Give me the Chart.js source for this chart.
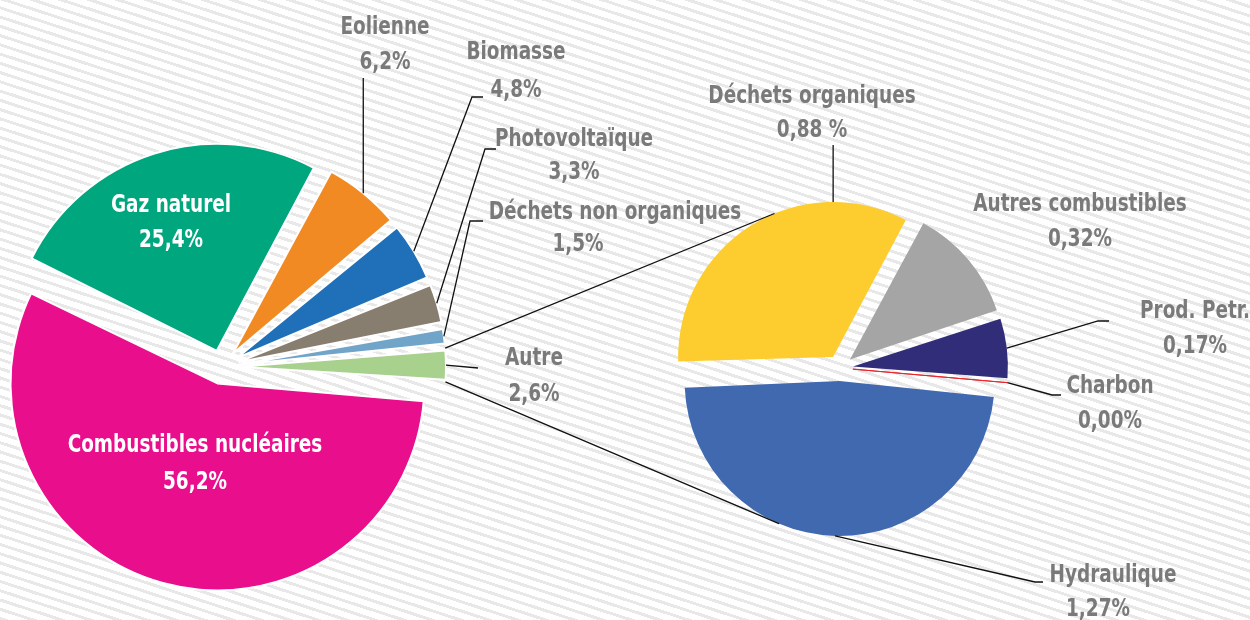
<!DOCTYPE html>
<html lang="fr">
<head>
<meta charset="utf-8">
<title>Production d'électricité par source</title>
<script src="https://cdn.jsdelivr.net/npm/chart.js@4.4.1/dist/chart.umd.min.js"></script>
<style>
    html, body {
        margin: 0;
        padding: 0;
        width: 1250px;
        height: 620px;
        overflow: hidden;
    }
    body {
        position: relative;
        background: repeating-linear-gradient(18deg,
            #e8e8e8 0px, #e8e8e8 3px,
            #ffffff 3px, #ffffff 8.8px);
    }
    canvas {
        position: absolute;
        left: 0;
        top: 0;
    }
</style>
</head>
<body>

<canvas id="mainPie" width="1250" height="620"></canvas>
<canvas id="autrePie" width="1250" height="620"></canvas>

<script>
// ==========================
// Data
// ==========================

const mainLabels = [
    "Gaz naturel", "Eolienne", "Biomasse", "Photovoltaïque",
    "Déchets non organiques", "Autre", "Combustibles nucléaires"
];
const mainValues = [25.4, 6.2, 4.8, 3.3, 1.5, 2.6, 56.2];
const mainColors = [
    "#00a67e", "#f28a24", "#1f70b8", "#877e70",
    "#70a4c8", "#a9d18e", "#e90e8b"
];

// "Autre" split
const autreLabels = [
    "Déchets organiques", "Autres combustibles", "Prod. Petr.",
    "Charbon", "Hydraulique"
];
const autreValues = [0.88, 0.32, 0.17, 0.003, 1.27];
const autreColors = ["#fdcd30", "#a5a5a5", "#312d78", "#e8262b", "#4169b0"];

// ==========================
// Text settings
// ==========================

const FONT = 'bold 25px "DejaVu Sans Condensed", "DejaVu Sans", sans-serif';
const SQUEEZE = 0.82;   // condensed look
const GREY = "#7a7a7a";

// label placement, same order as the labels above
const mainLayout = [
    { x: 171, y: 205, gap: 35, inside: true },
    { x: 385, y: 27, gap: 35, up: 78 },
    { x: 516, y: 52, gap: 38, path: [[472, 97], [483, 97]] },
    { x: 574, y: 139, gap: 33, path: [[485, 149], [496, 149]] },
    { x: 615, y: 212, gap: 32, dx: -37, path: [[470, 221], [483, 221]] },
    { x: 534, y: 358, gap: 36, path: [[478, 368]] },
    { x: 195, y: 445, gap: 37, inside: true }
];

const autreLayout = [
    { x: 812, y: 96, gap: 34, suffix: " %", at: 0, up: 145 },
    { x: 1080, y: 204, gap: 35 },
    { x: 1195, y: 311, gap: 35, path: [[1098, 321], [1109, 321]] },
    { x: 1110, y: 386, gap: 35, path: [[1052, 395], [1061, 395]] },
    { x: 1113, y: 575, gap: 34, dx: -15, path: [[1035, 582], [1043, 582]] }
];

// ==========================
// Helpers
// ==========================

function fmt(v, dec) {
    return v.toFixed(dec).replace(".", ",");
}

function squeezedText(ctx, text, x, y) {
    ctx.save();
    ctx.translate(x, y);
    ctx.scale(SQUEEZE, 1);
    ctx.fillText(text, 0, 0);
    ctx.restore();
}

// centre of an exploded slice (Chart.js moves it by offset / 4)
function sliceCentre(arc) {
    const mid = (arc.startAngle + arc.endAngle) / 2;
    const shift = (arc.options.offset || 0) / 4;
    return {
        x: arc.x + Math.cos(mid) * shift,
        y: arc.y + Math.sin(mid) * shift,
        mid: mid
    };
}

function edgePoint(arc, angle, r) {
    const c = sliceCentre(arc);
    return { x: c.x + Math.cos(angle) * r, y: c.y + Math.sin(angle) * r };
}

// tangent from a point to a slice circle
function tangentPoint(p, arc, r, side) {
    const c = sliceCentre(arc);
    const dx = c.x - p.x;
    const dy = c.y - p.y;
    const d = Math.hypot(dx, dy);
    const phi = Math.atan2(dy, dx) + side * Math.asin(r / d);
    const len = Math.sqrt(d * d - r * r);
    return { x: p.x + Math.cos(phi) * len, y: p.y + Math.sin(phi) * len };
}

// ==========================
// Plugins
// ==========================

// Chart.js grows exploded slices, keep them all at the same radius
const keepRadius = {
    id: "keepRadius",
    beforeDatasetsDraw(chart) {
        const meta = chart.getDatasetMeta(0);
        const base = meta.controller.outerRadius;
        meta.data.forEach(arc => {
            const shift = (arc.options.offset || 0) / 4;
            const fix = 1 - Math.sin(Math.min(Math.PI, arc.circumference || 0));
            arc.outerRadius = base - shift * fix;
        });
    }
};

function drawLabels(chart, labels, values, layout, dec) {
    const ctx = chart.ctx;
    const meta = chart.getDatasetMeta(0);
    const R = meta.controller.outerRadius;

    ctx.save();
    ctx.font = FONT;
    ctx.textAlign = "center";
    ctx.textBaseline = "middle";
    ctx.strokeStyle = "#111";
    ctx.lineWidth = 1.3;

    layout.forEach((lab, i) => {
        const arc = meta.data[i];
        const angle = lab.at !== undefined
            ? (lab.at - 90) * Math.PI / 180
            : sliceCentre(arc).mid;
        const a = edgePoint(arc, angle, R);

        if (lab.up !== undefined) {
            ctx.beginPath();
            ctx.moveTo(a.x, a.y);
            ctx.lineTo(a.x, lab.up);
            ctx.stroke();
        }
        if (lab.path) {
            ctx.beginPath();
            ctx.moveTo(a.x, a.y);
            lab.path.forEach(p => ctx.lineTo(p[0], p[1]));
            ctx.stroke();
        }

        ctx.fillStyle = lab.inside ? "#ffffff" : GREY;
        squeezedText(ctx, labels[i], lab.x, lab.y);
        squeezedText(
            ctx,
            fmt(values[i], dec) + (lab.suffix || "%"),
            lab.x + (lab.dx || 0),
            lab.y + lab.gap
        );
    });

    ctx.restore();
}

const mainText = {
    id: "mainText",
    afterDatasetsDraw(chart) {
        drawLabels(chart, mainLabels, mainValues, mainLayout, 1);
    }
};

const autreText = {
    id: "autreText",
    afterDatasetsDraw(chart) {
        drawLabels(chart, autreLabels, autreValues, autreLayout, 2);

        // connectors from the "Autre" slice to the second pie
        const mainMeta = mainChart.getDatasetMeta(0);
        const autreArc = mainMeta.data[mainLabels.indexOf("Autre")];
        const Rm = mainMeta.controller.outerRadius;
        const meta = chart.getDatasetMeta(0);
        const Ra = meta.controller.outerRadius;

        const top = edgePoint(autreArc, autreArc.startAngle, Rm);
        const bottom = edgePoint(autreArc, autreArc.endAngle, Rm);
        const t1 = tangentPoint(top, meta.data[0], Ra, -1);
        const t2 = tangentPoint(bottom, meta.data[meta.data.length - 1], Ra, 1);

        const ctx = chart.ctx;
        ctx.save();
        ctx.strokeStyle = "#111";
        ctx.lineWidth = 1.3;
        ctx.beginPath();
        ctx.moveTo(top.x, top.y);
        ctx.lineTo(t1.x, t1.y);
        ctx.moveTo(bottom.x, bottom.y);
        ctx.lineTo(t2.x, t2.y);
        ctx.stroke();
        ctx.restore();
    }
};

// ==========================
// Main Pie
// ==========================

const mainChart = new Chart(document.getElementById("mainPie"), {
    type: "pie",
    data: {
        labels: mainLabels,
        datasets: [{
            data: mainValues,
            backgroundColor: mainColors,
            borderColor: "#ffffff",
            borderWidth: 2,
            offset: 68,
            radius: 207
        }]
    },
    options: {
        responsive: false,
        animation: false,
        events: [],
        rotation: -63.5,
        layout: { padding: { left: 0, right: 806, top: 114, bottom: 0 } },
        plugins: {
            legend: { display: false },
            tooltip: { enabled: false }
        }
    },
    plugins: [keepRadius, mainText]
});

// ==========================
// "Autre" Pie
// ==========================

const autreChart = new Chart(document.getElementById("autrePie"), {
    type: "pie",
    data: {
        labels: autreLabels,
        datasets: [{
            data: autreValues,
            backgroundColor: autreColors,
            borderColor: autreColors,
            borderWidth: autreLabels.map(l => l === "Charbon" ? 1 : 0),
            offset: 52,
            radius: 155
        }]
    },
    options: {
        responsive: false,
        animation: false,
        events: [],
        rotation: -91.8,
        layout: { padding: { left: 640, right: 210, top: 116, bottom: 0 } },
        plugins: {
            legend: { display: false },
            tooltip: { enabled: false }
        }
    },
    plugins: [keepRadius, autreText]
});
</script>
</body>
</html>
